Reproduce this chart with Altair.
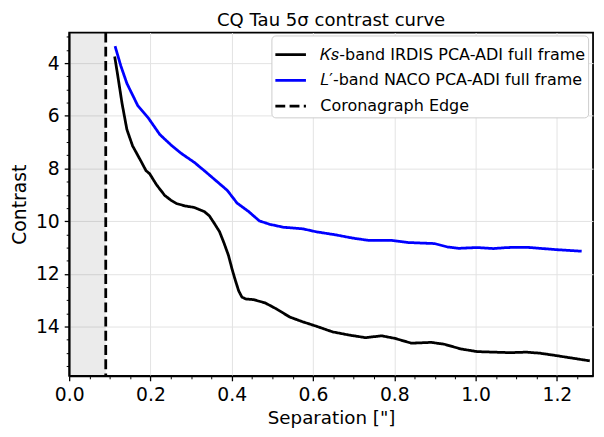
import altair as alt
import pandas as pd

# ---- data ----
ks_sep = [0.112, 0.120, 0.130, 0.142, 0.156, 0.178, 0.189, 0.198, 0.215, 0.235, 0.250, 0.264,
          0.285, 0.308, 0.333, 0.345, 0.357, 0.370, 0.381, 0.392, 0.401, 0.409, 0.417, 0.425,
          0.434, 0.454, 0.482, 0.510, 0.543, 0.575, 0.607, 0.648, 0.688, 0.729, 0.769, 0.802,
          0.842, 0.891, 0.923, 0.964, 1.004, 1.044, 1.085, 1.125, 1.158, 1.198, 1.239, 1.281]
ks_con = [3.75, 4.52, 5.52, 6.52, 7.14, 7.76, 8.08, 8.20, 8.62, 9.02, 9.20, 9.33,
          9.42, 9.48, 9.64, 9.80, 10.08, 10.40, 10.83, 11.30, 11.83, 12.25, 12.64, 12.88,
          12.95, 12.98, 13.10, 13.33, 13.64, 13.82, 13.98, 14.20, 14.32, 14.42, 14.35, 14.45,
          14.63, 14.60, 14.67, 14.85, 14.95, 14.97, 14.99, 14.97, 15.01, 15.10, 15.20, 15.30]

lp_sep = [0.113, 0.127, 0.142, 0.169, 0.195, 0.223, 0.250, 0.276, 0.308, 0.330, 0.361, 0.389,
          0.413, 0.442, 0.468, 0.494, 0.527, 0.575, 0.607, 0.656, 0.697, 0.737, 0.794, 0.834,
          0.899, 0.931, 0.959, 1.004, 1.044, 1.077, 1.125, 1.158, 1.198, 1.261]
lp_con = [3.36, 4.10, 4.77, 5.62, 6.09, 6.71, 7.10, 7.43, 7.77, 8.05, 8.46, 8.83,
          9.31, 9.64, 9.99, 10.12, 10.23, 10.29, 10.40, 10.52, 10.64, 10.73, 10.73, 10.81,
          10.85, 10.98, 11.03, 11.00, 11.04, 11.00, 10.99, 11.03, 11.08, 11.14]

edge_sep = [0.09]
series_names = ["𝐾𝑠-band IRDIS PCA-ADI full frame",
                "𝐿′-band NACO PCA-ADI full frame",
                "Coronagraph Edge"]
series_colors = ["#000000", "#0000ff", "#000000"]

x_domain = [0.0, 1.289]
y_domain = [2.84, 15.87]
x_major = [0.0, 0.2, 0.4, 0.6, 0.8, 1.0, 1.2]
x_minor = [round(0.05 * i, 2) for i in range(0, 26) if i % 4 != 0]
y_major = [4, 6, 8, 10, 12, 14]
y_minor = [3.0, 3.5, 4.5, 5.0, 5.5, 6.5, 7.0, 7.5, 8.5, 9.0, 9.5, 10.5, 11.0, 11.5,
           12.5, 13.0, 13.5, 14.5, 15.0, 15.5]

W, H = 531, 348
FONT = "DejaVu Sans"

lines_df = pd.concat([
    pd.DataFrame({"sep": ks_sep, "con": ks_con, "series": series_names[0]}),
    pd.DataFrame({"sep": lp_sep, "con": lp_con, "series": series_names[1]}),
], ignore_index=True)
edge_df = pd.DataFrame({"sep": edge_sep, "series": series_names[2]})
shade_df = pd.DataFrame({"x0": [0.0], "x1": edge_sep})

xscale = alt.Scale(domain=x_domain, nice=False, zero=False)
yscale = alt.Scale(domain=y_domain, nice=False, zero=False, reverse=True)

x_axis = alt.Axis(values=x_major, format=".1f", title='Separation ["]', grid=True,
                  gridColor="#e3e3e3", gridWidth=1, tickSize=5, tickWidth=1.3,
                  tickColor="black", labelPadding=4.5, labelFontSize=19, labelFont=FONT,
                  labelColor="black", labelFlush=False, labelOverlap=False,
                  titleFontSize=18.5, titleFont=FONT,
                  titleFontWeight="normal", titleColor="black", titlePadding=4.5,
                  domainColor="black", domainWidth=1.8, orient="bottom")
y_axis = alt.Axis(values=y_major, format="d", title="Contrast", grid=True,
                  gridColor="#e3e3e3", gridWidth=1, tickSize=5, tickWidth=1.3,
                  tickColor="black", labelPadding=5, labelFontSize=19, labelFont=FONT,
                  labelColor="black", labelFlush=False, labelOverlap=False,
                  titleFontSize=19, titleFont=FONT,
                  titleFontWeight="normal", titleColor="black", titlePadding=6,
                  domainColor="black", domainWidth=1.8, orient="left")

color_enc = alt.Color("series:N",
                      scale=alt.Scale(domain=series_names, range=series_colors),
                      legend=alt.Legend(title=None, orient="none", legendX=205, legendY=3,
                                        symbolType="stroke", symbolSize=960,
                                        symbolStrokeWidth=2.8, labelFontSize=16.2,
                                        labelFont=FONT, labelColor="black",
                                        labelOffset=13, rowPadding=0, padding=2.5,
                                        fillColor="white", strokeColor="#cccccc",
                                        cornerRadius=4, labelLimit=400))
dash_enc = alt.StrokeDash("series:N",
                          scale=alt.Scale(domain=series_names,
                                          range=[[1, 0], [1, 0], [10, 4.4]]),
                          legend=alt.Legend(title=None))

shade = alt.Chart(shade_df).mark_rect(color="#000000", opacity=0.08).encode(
    x=alt.X("x0:Q", scale=xscale, axis=x_axis),
    x2="x1:Q",
    y=alt.value(0),
    y2=alt.value(H),
)

lines = alt.Chart(lines_df).mark_line(strokeWidth=2.8, clip=True).encode(
    x=alt.X("sep:Q", scale=xscale, axis=x_axis),
    y=alt.Y("con:Q", scale=yscale, axis=y_axis),
    color=color_enc,
    strokeDash=dash_enc,
    order=alt.Order("sep:Q"),
)

edge = alt.Chart(edge_df).mark_rule(strokeWidth=2.8).encode(
    x=alt.X("sep:Q", scale=xscale, axis=x_axis),
    color=color_enc,
    strokeDash=dash_enc,
)

main = alt.layer(shade, lines, edge)

minor_x = alt.Chart(pd.DataFrame({"v": x_minor})).mark_point(opacity=0).encode(
    x=alt.X("v:Q", scale=xscale,
            axis=alt.Axis(values=x_minor, labels=False, grid=False, domain=False,
                          tickSize=3, tickWidth=1, tickColor="black", title=None,
                          orient="bottom")),
)
minor_y = alt.Chart(pd.DataFrame({"v": y_minor})).mark_point(opacity=0).encode(
    y=alt.Y("v:Q", scale=yscale,
            axis=alt.Axis(values=y_minor, labels=False, grid=False, domain=False,
                          tickSize=3, tickWidth=1, tickColor="black", title=None,
                          orient="left")),
)

chart = alt.layer(main, minor_x, minor_y).resolve_axis(
    x="independent", y="independent"
).properties(
    width=W, height=H,
    title=alt.TitleParams("CQ Tau 5σ contrast curve", fontSize=18.3, font=FONT,
                          fontWeight="normal", color="black", anchor="middle", offset=0.5),
    autosize=alt.AutoSizeParams(type="none"),
    padding={"left": 62, "top": 22, "right": 3, "bottom": 50},
).configure_view(stroke="black", strokeWidth=1.8)

chart.save("out.html", embed_options={"renderer": "svg", "actions": False})
